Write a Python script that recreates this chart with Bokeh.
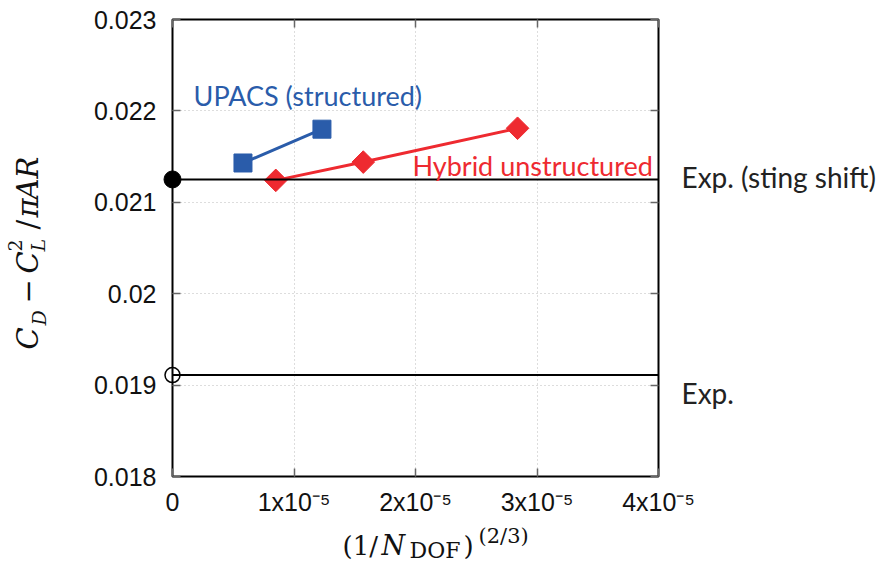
import numpy as np
from bokeh.plotting import figure
from bokeh.models import Span, FixedTicker, LinearAxis, Range1d
from bokeh.core.properties import value
from bokeh.embed import file_html
from bokeh.resources import INLINE

# ---- data ----
upacs_x = [0.58e-5, 1.23e-5]
upacs_y = [0.02143, 0.02180]
hybrid_x = [0.85e-5, 1.57e-5, 2.84e-5]
hybrid_y = [0.02124, 0.02144, 0.02181]
exp_sting = 0.02125
exp_plain = 0.01911
exp_x = [0.0]
x_ticks = [0.0, 1e-5, 2e-5, 3e-5, 4e-5]
x_tick_labels = ["0", "1x10\u207b\u2075", "2x10\u207b\u2075", "3x10\u207b\u2075", "4x10\u207b\u2075"]
y_ticks = [0.018, 0.019, 0.020, 0.021, 0.022, 0.023]
y_tick_labels = ["0.018", "0.019", "0.02", "0.021", "0.022", "0.023"]
series_names = ["UPACS (structured)", "Hybrid unstructured"]
exp_names = ["Exp. (sting shift)", "Exp."]

BLUE = "#2a5caa"
RED = "#ee2a30"
TICK_FONT = "Liberation Sans"
ANN_FONT = "Lato"
MATH_FONT = "DejaVu Serif"
K = 0.37  # baseline correction (fraction of font size) for this renderer

p = figure(width=878, height=566, output_backend="svg", toolbar_location=None,
           x_range=Range1d(0, 4e-5), y_range=Range1d(0.018, 0.023),
           min_border_left=172, min_border_right=220, min_border_top=19, min_border_bottom=90)
p.background_fill_color = "white"
p.border_fill_color = "white"
p.outline_line_color = "black"
p.outline_line_width = 2

def style_axis(ax, ticks, labels, show_labels):
    ax.ticker = FixedTicker(ticks=ticks)
    ax.axis_line_color = None
    ax.major_tick_in = 8
    ax.major_tick_out = 0
    ax.major_tick_line_color = "#666666"
    ax.major_tick_line_width = 1.5
    ax.minor_tick_line_color = None
    if show_labels:
        ax.major_label_overrides = {t: l for t, l in zip(ticks, labels)}
        ax.major_label_text_font = TICK_FONT
        ax.major_label_text_font_size = "25px"
        ax.major_label_text_color = "#111111"
    else:
        ax.major_label_text_color = None

style_axis(p.xaxis[0], x_ticks, x_tick_labels, True)
style_axis(p.yaxis[0], y_ticks, y_tick_labels, True)
p.xaxis[0].major_label_standoff = 11
p.yaxis[0].major_label_standoff = 16

top = LinearAxis()
style_axis(top, x_ticks, x_tick_labels, False)
p.add_layout(top, "above")
right = LinearAxis()
style_axis(right, y_ticks, y_tick_labels, False)
p.add_layout(right, "right")

p.xgrid.ticker = FixedTicker(ticks=x_ticks)
p.ygrid.ticker = FixedTicker(ticks=y_ticks)
for g in (p.xgrid[0], p.ygrid[0]):
    g.grid_line_color = "#bbbbbb"
    g.grid_line_dash = "1 3"
    g.grid_line_width = 1

# experimental lines
p.add_layout(Span(location=exp_sting, dimension="width", line_color="black", line_width=2))
p.add_layout(Span(location=exp_plain, dimension="width", line_color="black", line_width=2))

# series
p.line(upacs_x, upacs_y, line_color=BLUE, line_width=3)
p.scatter(upacs_x, upacs_y, marker="square", size=18, fill_color=BLUE, line_color=BLUE)
p.line(hybrid_x, hybrid_y, line_color=RED, line_width=3)
p.scatter(hybrid_x, hybrid_y, marker="square", angle=np.pi / 4, size=16, fill_color=RED, line_color=RED)

# experimental points at x = 0
p.scatter(exp_x, [exp_sting], marker="circle", size=17, fill_color="black", line_color="black", level="overlay")
p.scatter(exp_x, [exp_plain], marker="circle", size=15, fill_color=None, line_color="black", line_width=1.5, level="overlay")

def txt(x, y, text, color, font, size, style="normal", xo=0, yo=0, angle=0.0):
    # xo/yo: screen pixels (yo downwards); anchor = start of the text baseline
    if angle == 0.0:
        yo = yo - K * size
    else:
        xo = xo - K * size
    p.text(x=[x], y=[y], text=[text], x_offset=xo, y_offset=yo, angle=angle,
           text_font=value(font), text_font_size=f"{size}px", text_font_style=style,
           text_color=color, text_baseline="alphabetic", text_align="left", level="overlay")

# series / experiment labels (baseline-anchored)
txt(0.173e-5, 0.02206, series_names[0], BLUE, ANN_FONT, 27)
txt(1.975e-5, 0.021293, series_names[1], RED, ANN_FONT, 27)
txt(4e-5, exp_sting, exp_names[0], "#222222", ANN_FONT, 28, xo=23, yo=8)
txt(4e-5, exp_plain, exp_names[1], "#222222", ANN_FONT, 28, xo=23, yo=28)

# axis titles (math typeset pieces), anchored at frame's bottom-left corner
FX, FY = 172, 476  # frame left / bottom in screen pixels

def piece(text, style, size, sx, sy, angle=0.0):
    txt(0.0, 0.018, text, "#111111", MATH_FONT, size, style, xo=sx - FX, yo=sy - FY, angle=angle)

# y title: C_D - C_L^2 / pi A R  (rotated, reads bottom to top)
R = np.pi / 2
piece("C", "italic", 29, 38, 349, R)
piece("D", "italic", 19, 46, 325, R)
piece("\u2212", "normal", 29, 37, 303, R)
piece("C", "italic", 29, 38, 273, R)
piece("L", "italic", 19, 45, 251, R)
piece("2", "normal", 19, 22, 251, R)
piece("/", "normal", 29, 38, 229, R)
piece("\u03c0", "italic", 29, 38, 217, R)
piece("A", "italic", 29, 38, 199, R)
piece("R", "italic", 29, 38, 178, R)

# x title: (1/N_DOF)^(2/3)
piece("(1/", "normal", 26, 342, 555)
piece("N", "italic", 27, 381, 555)
piece("DOF", "normal", 22, 409, 558)
piece(")", "normal", 26, 463, 555)
piece("(2/3)", "normal", 21, 478, 543)

open("out.html", "w").write(file_html(p, INLINE))
